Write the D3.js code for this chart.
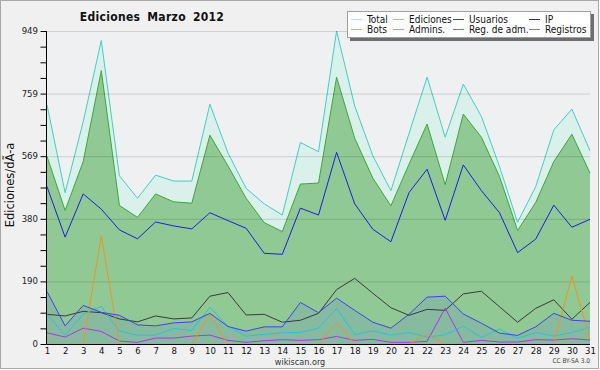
<!DOCTYPE html>
<html>
<head>
<meta charset="utf-8">
<script src="https://cdn.jsdelivr.net/npm/d3@7"></script>
<style>
body { margin: 0; background: #fff; }
svg { display: block; font-family: "DejaVu Sans Condensed", "DejaVu Sans", sans-serif; }
</style>
</head>
<body>
<svg id="chart" width="600" height="370"></svg>
<script>
var days = [1,2,3,4,5,6,7,8,9,10,11,12,13,14,15,16,17,18,19,20,21,22,23,24,25,26,27,28,29,30,31]
var total = [725,459,674,920,510,442,512,494,494,727,579,472,425,391,611,583,949,722,571,465,638,809,627,788,690,538,369,477,649,712,586]
var ediciones = [569,405,553,829,420,384,455,431,427,633,540,442,368,341,485,488,809,624,503,419,545,667,483,697,627,508,344,429,553,636,518]
var usuarios = [477,324,455,409,346,319,370,358,349,398,374,351,275,272,412,391,581,425,348,310,459,530,375,543,465,398,277,318,421,354,378]
var ip = [90,85,99,95,76,67,85,76,79,145,156,88,90,66,72,93,165,199,154,110,87,105,102,152,160,113,66,108,134,75,126]
var bots = [0,0,0,328,0,0,0,0,0,88,0,0,0,0,0,0,64,0,0,0,0,29,0,0,0,0,0,0,0,206,12]
var admins = [90,27,91,114,39,27,27,47,41,111,54,24,29,34,35,48,108,29,40,27,35,21,28,54,20,45,17,35,24,35,50]
var regAdm = [34,21,48,38,9,5,18,18,24,27,11,5,10,13,11,13,23,11,14,5,5,8,109,5,11,6,6,13,12,16,12]
var registros = [159,55,117,96,87,58,55,64,67,93,53,39,52,52,126,95,139,102,66,48,90,142,145,91,63,33,26,52,93,72,69]
var yMax = 949
var yTickLabels = ['0', '190', '380', '569', '759', '949']

var legendItems = [
    { name: 'Total', color: '#a8eadc' },
    { name: 'Ediciones', color: '#88d888' },
    { name: 'Usuarios', color: '#3333ff' },
    { name: 'IP', color: '#333333' },
    { name: 'Bots', color: '#ffa830' },
    { name: 'Admins.', color: '#33d8ee' },
    { name: 'Reg. de adm.', color: '#ee33ee' },
    { name: 'Registros', color: '#7777ff' }
]

var svg = d3.select('#chart')
var margin = { left: 47, right: 590, top: 31, bottom: 344 }

// fondo
svg.append('rect').attr('x', 0.5).attr('y', 0.5).attr('width', 598).attr('height', 368)
    .attr('fill', '#f0f0f0').attr('stroke', '#a8a8a8')
svg.append('rect').attr('x', margin.left).attr('y', margin.top)
    .attr('width', margin.right - margin.left).attr('height', margin.bottom - margin.top)
    .attr('fill', '#eff0f2')

var x = d3.scaleLinear().domain([1, 31]).range([margin.left, margin.right])
var y = d3.scaleLinear().domain([0, yMax]).range([margin.bottom, margin.top])

var area = function (vals) {
    return d3.area().x((d, i) => x(days[i])).y0(y(0)).y1(d => y(d))(vals)
}
var line = function (vals) {
    return d3.line().x((d, i) => x(days[i])).y(d => y(d))(vals)
}

svg.append('path').attr('d', area(total)).attr('fill', '#d9f1ea')
svg.append('path').attr('d', line(total)).attr('fill', 'none').attr('stroke', '#3ed0c4').attr('stroke-width', 1)
svg.append('path').attr('d', area(ediciones)).attr('fill', '#90c994')
svg.append('path').attr('d', line(ediciones)).attr('fill', 'none').attr('stroke', '#38aa38').attr('stroke-width', 1)
svg.append('path').attr('d', area(registros)).attr('fill', 'rgba(90,110,220,0.15)')

// rejilla
svg.append('g').selectAll('line')
    .data([1, 2, 3, 4, 5])
    .enter()
    .append('line')
    .attr('x1', margin.left).attr('x2', margin.right)
    .attr('y1', d => y(d * yMax / 5) + 0.5).attr('y2', d => y(d * yMax / 5) + 0.5)
    .attr('stroke', 'rgba(0,0,0,0.14)')

var series = [
    { vals: usuarios, color: '#1c1ce6' },
    { vals: ip, color: '#3a3a3a' },
    { vals: admins, color: '#25c3e0' },
    { vals: regAdm, color: '#b032ea' },
    { vals: bots, color: '#f29418' },
    { vals: registros, color: '#4040f4' }
]
svg.append('g').selectAll('path')
    .data(series)
    .enter()
    .append('path')
    .attr('d', d => line(d.vals))
    .attr('fill', 'none')
    .attr('stroke', d => d.color)
    .attr('stroke-width', 1)

// ejes
var yAxis = svg.append('g')
    .attr('transform', 'translate(' + (margin.left - 0.5) + ',0)')
    .call(d3.axisLeft(y).tickValues(d3.range(0, 21).map(i => i * yMax / 20)).tickSize(6).tickFormat(''))
yAxis.selectAll('.domain').remove()
yAxis.selectAll('line').attr('stroke', '#000')
svg.append('g').selectAll('text')
    .data(yTickLabels)
    .enter()
    .append('text')
    .attr('x', margin.left - 9)
    .attr('y', (d, i) => y(i * yMax / 5) + 3)
    .attr('text-anchor', 'end')
    .attr('font-size', '9.5px')
    .attr('fill', '#222')
    .text(d => d)

var xAxis = svg.append('g')
    .attr('transform', 'translate(0,' + margin.bottom + ')')
    .call(d3.axisBottom(x).tickValues(days).tickSize(0).tickPadding(3).tickFormat(d3.format('d')))
xAxis.selectAll('.domain').remove()
xAxis.selectAll('text').attr('font-size', '9.5px').attr('fill', '#111')
    .attr('font-family', '"DejaVu Sans Condensed", "DejaVu Sans", sans-serif')

svg.append('line').attr('x1', margin.left - 0.5).attr('x2', margin.left - 0.5)
    .attr('y1', margin.top).attr('y2', margin.bottom + 0.5).attr('stroke', '#000')
svg.append('line').attr('x1', margin.left - 0.5).attr('x2', margin.right)
    .attr('y1', margin.bottom + 0.5).attr('y2', margin.bottom + 0.5).attr('stroke', '#000')

// textos
svg.append('text').text('Ediciones Marzo 2012')
    .attr('x', 152).attr('y', 21)
    .attr('text-anchor', 'middle')
    .attr('font-size', '12px').attr('font-weight', 'bold')
    .attr('word-spacing', '3px').attr('letter-spacing', '0.3px')
    .attr('fill', '#111')
svg.append('text').text('Ediciones/dÃ-a')
    .attr('transform', 'translate(14,185) rotate(-90)')
    .attr('text-anchor', 'middle')
    .attr('font-size', '11.5px')
    .attr('font-family', '"DejaVu Sans", sans-serif')
    .attr('fill', '#111')
svg.append('text').text('wikiscan.org')
    .attr('x', 300).attr('y', 365)
    .attr('text-anchor', 'middle')
    .attr('font-size', '9px')
    .attr('fill', '#333')
svg.append('text').text('CC BY-SA 3.0')
    .attr('x', 590).attr('y', 363)
    .attr('text-anchor', 'end')
    .attr('font-size', '6.5px')
    .attr('fill', '#444')

// leyenda
var legend = svg.append('g')
legend.append('rect').attr('x', 350).attr('y', 14).attr('width', 244).attr('height', 27).attr('fill', '#6e6e6e')
legend.append('rect').attr('x', 347.5).attr('y', 11.5).attr('width', 243).attr('height', 26)
    .attr('fill', '#fff').attr('stroke', '#a0a0a0')
var colX = [351, 393, 453, 529]
var rowY = [19.5, 29.5]
var item = legend.selectAll('g.item')
    .data(legendItems)
    .enter()
    .append('g')
    .attr('transform', (d, i) => 'translate(' + colX[i % 4] + ',' + rowY[Math.floor(i / 4)] + ')')
item.append('line').attr('x1', 0).attr('x2', 11).attr('y1', 0).attr('y2', 0)
    .attr('stroke', d => d.color).attr('stroke-width', 1)
item.append('text').attr('x', 16).attr('y', 3.5)
    .attr('font-size', '10px').attr('fill', '#111')
    .text(d => d.name)
</script>
</body>
</html>
